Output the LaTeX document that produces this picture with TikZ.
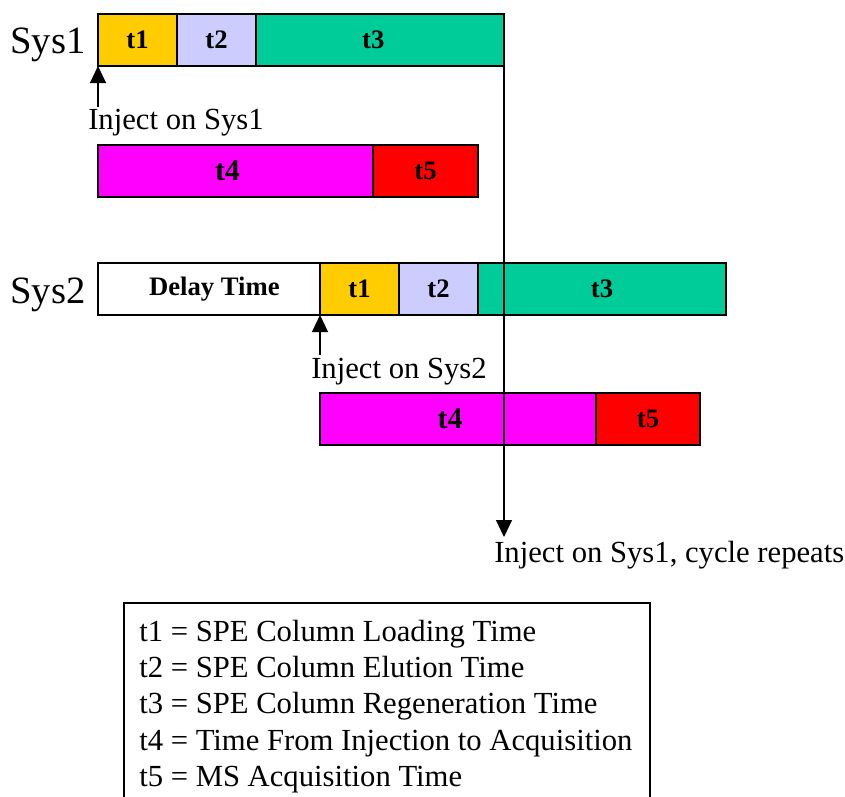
\documentclass[tikz,border=0pt]{standalone}
\usepackage{fontspec}
\setmainfont{Liberation Serif}
\usetikzlibrary{arrows.meta}
\definecolor{cone}{HTML}{FFCC00}
\definecolor{ctwo}{HTML}{CCCCFF}
\definecolor{cthree}{HTML}{00CC99}
\definecolor{cfour}{HTML}{FF00FF}
\definecolor{cfive}{HTML}{FF0000}
\tikzset{
  bar/.style={draw, line width=1.1pt, anchor=north west, inner sep=0pt, outer sep=0pt,
    minimum height=39pt, font=\bfseries\fontsize{20}{22}\selectfont},
  bigbar/.style={bar, font=\bfseries\fontsize{22.5}{24}\selectfont},
  lbl/.style={font=\fontsize{23}{27}\selectfont, inner sep=0pt, anchor=base west},
  syslbl/.style={font=\fontsize{29}{32}\selectfont, inner sep=0pt, anchor=base west},
  arr/.style={line width=0.8pt, -{Triangle[length=12.75pt,width=12pt]}},
}
\begin{document}
\begin{tikzpicture}[x=0.75pt, y=-0.75pt]
\useasboundingbox (0,0) rectangle (845,796);
\clip (0,0) rectangle (845,796);
\fill[white] (0,0) rectangle (845,796);
% Sys1
\node[syslbl] (sys1) at (10,53) {Sys1};
\node[bar, fill=cone, minimum width=59.25pt] (a1) at (98,14) {t1};
\node[bar, fill=ctwo, minimum width=59.25pt] (a2) at (a1.north east) {t2};
\node[bar, fill=cthree, minimum width=186pt] (a3) at (a2.north east) {t3\hspace*{10pt}};
\coordinate (i1) at (98,107);
\draw[arr] (i1) -- (a1.south west);
\node[lbl] (inj1) at (88,129) {Inject on Sys1};
\node[bigbar, fill=cfour, minimum width=206.25pt] (b4) at (98,145) {t4\hspace*{12pt}};
\node[bar, fill=cfive, minimum width=78.75pt] (b5) at (b4.north east) {t5};
% Sys2
\node[syslbl] (sys2) at (10,303) {Sys2};
\node[bar, fill=white, minimum width=166.5pt] (d0) at (98,263) {\hspace*{8pt}Delay Time};
\node[bar, fill=cone, minimum width=59.25pt] (d1) at (d0.north east) {t1};
\node[bar, fill=ctwo, minimum width=59.25pt] (d2) at (d1.north east) {t2};
\node[bar, fill=cthree, minimum width=186pt] (d3) at (d2.north east) {t3};
\coordinate (i2) at (320,355);
\draw[arr] (i2) -- (d1.south west);
\node[lbl] (inj2) at (311,378) {Inject on Sys2};
\node[bigbar, fill=cfour, minimum width=207pt] (e4) at (320,393) {t4\hspace*{12pt}};
\node[bar, fill=cfive, minimum width=78pt] (e5) at (e4.north east) {t5};
% cycle arrow
\coordinate (cend) at (504,537);
\draw[arr] (a3.south east) -- (cend);
\node[lbl] (cyc) at (494,562) {Inject on Sys1, cycle repeats};
% legend
\node[draw, line width=1.1pt, anchor=north west, inner sep=0pt, outer sep=0pt,
  minimum width=394.5pt, minimum height=165pt] (legend) at (124,603) {};
\node[lbl] (l1) at (139,641) {t1 = SPE Column Loading Time};
\node[lbl] (l2) at (139,677) {t2 = SPE Column Elution Time};
\node[lbl] (l3) at (139,713.5) {t3 = SPE Column Regeneration Time};
\node[lbl] (l4) at (139,750) {t4 = Time From Injection to Acquisition};
\node[lbl] (l5) at (139,786) {t5 = MS Acquisition Time};
\end{tikzpicture}
\end{document}
